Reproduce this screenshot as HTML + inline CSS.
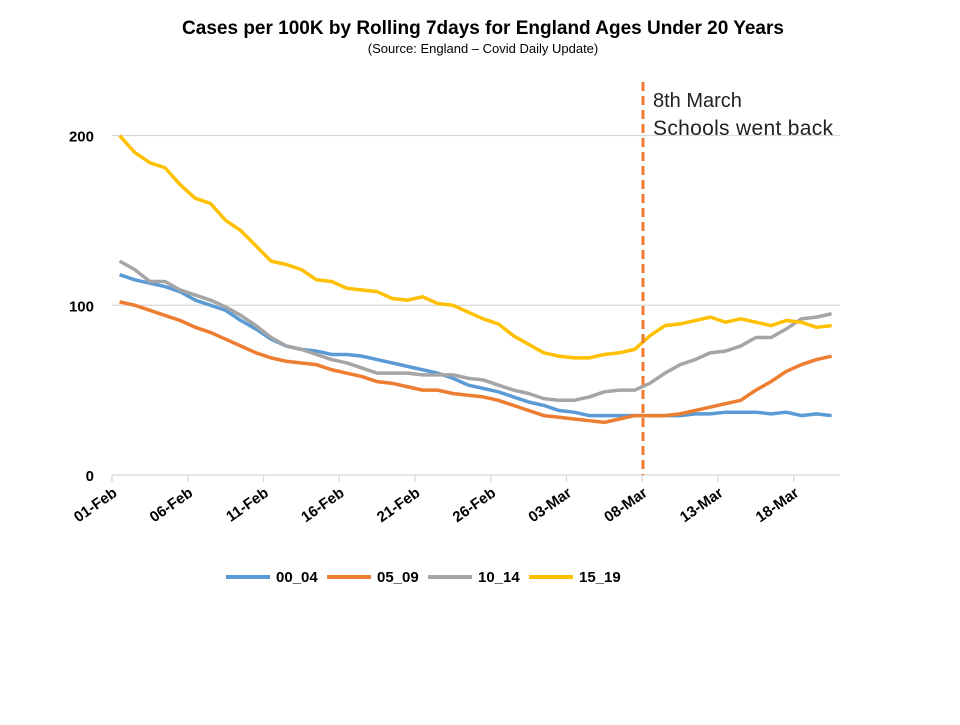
<!DOCTYPE html>
<html><head><meta charset="utf-8"><style>
body{margin:0;background:#fff;font-family:"Liberation Sans",Arial,sans-serif}
svg text{font-family:"Liberation Sans",Arial,sans-serif}
</style></head><body>
<svg id="c" width="960" height="720">
<text x="483" y="34" text-anchor="middle" font-size="19" font-weight="bold">Cases per 100K by Rolling 7days for England Ages Under 20 Years</text>
<text x="483" y="53" text-anchor="middle" font-size="13">(Source: England – Covid Daily Update)</text>
<g id="grid"></g><g id="series"></g>
<line x1="643" y1="82" x2="643" y2="475" stroke="#ED7D31" stroke-width="3" stroke-dasharray="9,5"/>
<text x="653" y="107" font-size="20" fill="#222">8th March</text>
<text x="653" y="135" font-size="21" fill="#222" textLength="180">Schools went back</text>
<g id="legend"></g>
</svg>
<script>
const seriesNames=["00_04","05_09","10_14","15_19"];
const colors=["#5B9BD5","#ED7D31","#A5A5A5","#FFC000"];
const s0004=[118,115,113,111,108,103,100,97,91,86,80,76,74,73,71,71,70,68,66,64,62,60,57,53,51,49,46,43,41,38,37,35,35,35,35,35,35,35,36,36,37,37,37,36,37,35,36,35];
const s0509=[102,100,97,94,91,87,84,80,76,72,69,67,66,65,62,60,58,55,54,52,50,50,48,47,46,44,41,38,35,34,33,32,31,33,35,35,35,36,38,40,42,44,50,55,61,65,68,70];
const s1014=[126,121,114,114,109,106,103,99,94,88,81,76,74,71,68,66,63,60,60,60,59,59,59,57,56,53,50,48,45,44,44,46,49,50,50,54,60,65,68,72,73,76,81,81,86,92,93,95];
const s1519=[200,190,184,181,171,163,160,150,144,135,126,124,121,115,114,110,109,108,104,103,105,101,100,96,92,89,82,77,72,70,69,69,71,72,74,82,88,89,91,93,90,92,90,88,91,90,87,88];
const yTicks=[0,100,200];
const xTickLabels=["01-Feb","06-Feb","11-Feb","16-Feb","21-Feb","26-Feb","03-Mar","08-Mar","13-Mar","18-Mar"];
const NS="http://www.w3.org/2000/svg";
const X0=112,DX=15.15,Y0=475,KY=1.6975;
const x=i=>X0+DX*(i+0.5), xt=i=>X0+DX*i, y=v=>Y0-v*KY;
function mk(t,a,p){const e=document.createElementNS(NS,t);for(const k in a)e.setAttribute(k,a[k]);p.appendChild(e);return e;}
const g=document.getElementById('grid');
yTicks.forEach(v=>{
 const l=mk('line',{x1:X0,x2:840,y1:y(v),y2:y(v),stroke:'#d9d9d9','stroke-width':1.3},g);
 
 
 const t=mk('text',{x:94,y:y(v)+6,'text-anchor':'end','font-size':15,'font-weight':'bold'},g);t.textContent=v;
 
 
});
xTickLabels.forEach((s,k)=>{
 const xx=xt(k*5);
 const l=mk('line',{x1:xx,x2:xx,y1:Y0,y2:Y0+7,stroke:'#d9d9d9','stroke-width':1.3},g);
 
 
 const t=mk('text',{x:xx+6,y:Y0+20,'text-anchor':'end','font-size':15,'font-weight':'bold',transform:`rotate(-35 ${xx+6} ${Y0+20})`},g);t.textContent=s;
 
 
});
const sg=document.getElementById('series');
[s0004,s0509,s1014,s1519].forEach((d,j)=>{
 const p=mk('polyline',{points:d.map((v,i)=>x(i)+','+y(v)).join(' '),fill:'none',stroke:colors[j],'stroke-width':3.5,'stroke-linejoin':'round'},sg);
 
 
});
const lg=document.getElementById('legend');
seriesNames.forEach((n,j)=>{
 const lx=226+j*101;
 const l=mk('line',{x1:lx,x2:lx+44,y1:577,y2:577,stroke:colors[j],'stroke-width':4},lg);
 
 
 const t=mk('text',{x:lx+50,y:582,'font-size':15,'font-weight':'bold'},lg);t.textContent=n;
 
 
});
</script>
</body></html>
